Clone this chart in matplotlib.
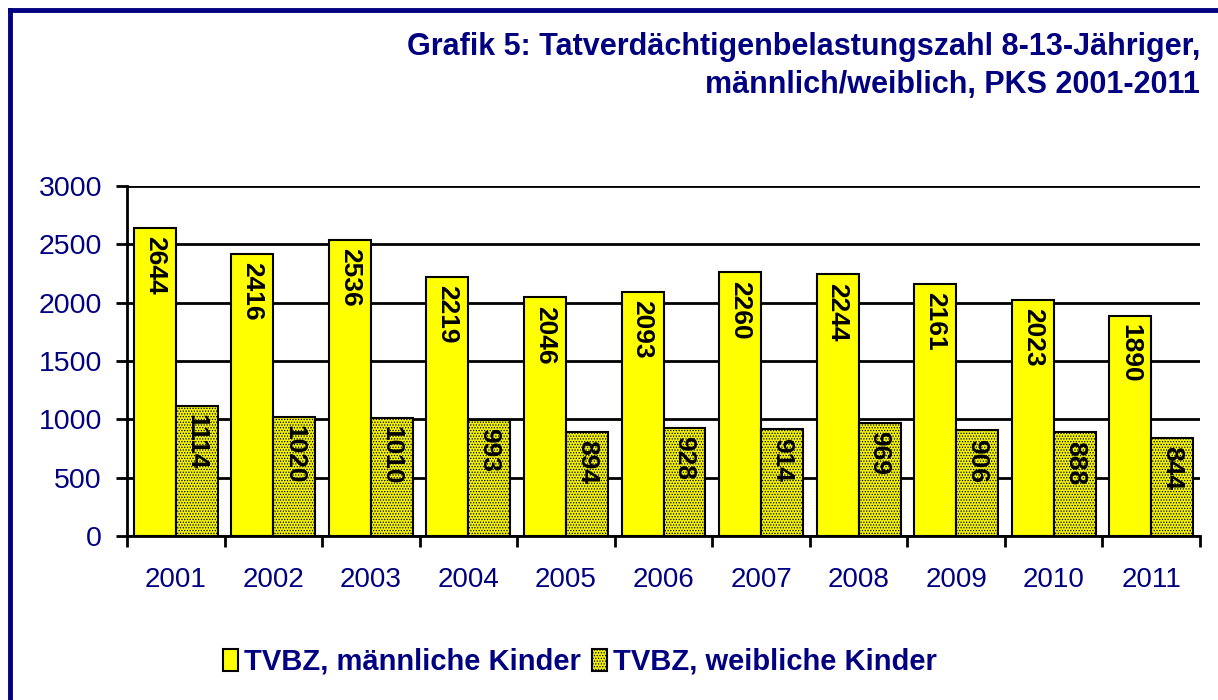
import matplotlib.pyplot as plt
import numpy as np
from matplotlib import font_manager
from matplotlib.font_manager import FontProperties
from matplotlib.lines import Line2D
from matplotlib.patches import Patch

plt.rcParams['font.family'] = ['Liberation Sans', 'DejaVu Sans']
plt.rcParams['hatch.color'] = '#9a9aa0'
plt.rcParams['hatch.linewidth'] = 0.6


def bold_font(size):
    # direkt die Datei nehmen, sonst landet man bei "Narrow"
    for f in font_manager.fontManager.ttflist:
        if f.fname.endswith('LiberationSans-Bold.ttf'):
            return FontProperties(fname=f.fname, size=size)
    return FontProperties(family='DejaVu Sans', weight='bold', size=size)


# Daten
jahre = ['2001', '2002', '2003', '2004', '2005', '2006', '2007', '2008', '2009', '2010', '2011']
maennlich = [2644, 2416, 2536, 2219, 2046, 2093, 2260, 2244, 2161, 2023, 1890]
weiblich = [1114, 1020, 1010, 993, 894, 928, 914, 969, 906, 888, 844]
y_ticks = [0, 500, 1000, 1500, 2000, 2500, 3000]

blau = '#000080'
gelb = '#FFFF00'
oliv = '#F0F010'

fig = plt.figure(figsize=(12.18, 7), dpi=100)
ax = fig.add_axes([127 / 1218, 1 - 536 / 700, (1200 - 127) / 1218, 350 / 700])

x = np.arange(len(jahre))
bw = 0.43
b1 = ax.bar(x - bw / 2, maennlich, bw, color=gelb, edgecolor='black', linewidth=1.5, zorder=3)
b2 = ax.bar(x + bw / 2, weiblich, bw, color=oliv, edgecolor='black', linewidth=1.5,
            hatch='......', zorder=3)

for bars, werte in ((b1, maennlich), (b2, weiblich)):
    for r, v in zip(bars, werte):
        ax.annotate(str(v), (r.get_x() + r.get_width() / 2, v), xytext=(0, -6),
                    textcoords='offset points', rotation=270, ha='center', va='top',
                    fontproperties=bold_font(19), color='black', zorder=4)

ax.set_xlim(-0.5, len(jahre) - 0.5)
ax.set_ylim(0, 3000)
ax.set_yticks(y_ticks)
ax.set_yticklabels([str(t) for t in y_ticks], fontsize=20.5, color=blau)
ax.yaxis.grid(True, color='black', linewidth=2, zorder=0)
ax.set_axisbelow(True)

# Jahresbeschriftungen zwischen den Tick-Strichen
ax.set_xticks(np.arange(len(jahre) + 1) - 0.5)
ax.set_xticklabels([])
ax.set_xticks(x, minor=True)
ax.set_xticklabels(jahre, minor=True, fontsize=20, color=blau)
ax.tick_params(axis='x', which='major', length=8, width=2, direction='out')
ax.tick_params(axis='x', which='minor', length=0, pad=22)
ax.tick_params(axis='y', length=8, width=2, direction='out', pad=10)

for s in ['top', 'right']:
    ax.spines[s].set_visible(False)
for s in ['left', 'bottom']:
    ax.spines[s].set_linewidth(2)

fig.text(1200 / 1218, 1 - 66 / 700,
         'Grafik 5: Tatverdächtigenbelastungszahl 8-13-Jähriger,\nmännlich/weiblich, PKS 2001-2011',
         ha='right', va='center', fontproperties=bold_font(22), color=blau,
         linespacing=1.32, multialignment='right')
# Rahmen (nur links und oben sichtbar)
fig.add_artist(Line2D([10 / 1218, 10 / 1218], [0, 1 - 10 / 700], color=blau, linewidth=3.5))
fig.add_artist(Line2D([10 / 1218, 1], [1 - 10 / 700, 1 - 10 / 700], color=blau, linewidth=3.5))

handles = [Patch(facecolor=gelb, edgecolor='black', linewidth=1.5),
           Patch(facecolor=oliv, edgecolor='black', linewidth=1.5, hatch='......')]
leg = fig.legend(handles, ['TVBZ, männliche Kinder', 'TVBZ, weibliche Kinder'],
                 loc='center', bbox_to_anchor=(580 / 1218, 1 - 662 / 700), ncol=2,
                 frameon=False, handlelength=0.5, handleheight=0.8, handletextpad=0.2,
                 columnspacing=0.4, prop=bold_font(21))
for t in leg.get_texts():
    t.set_color(blau)

fig.savefig('out.png', dpi=100)
